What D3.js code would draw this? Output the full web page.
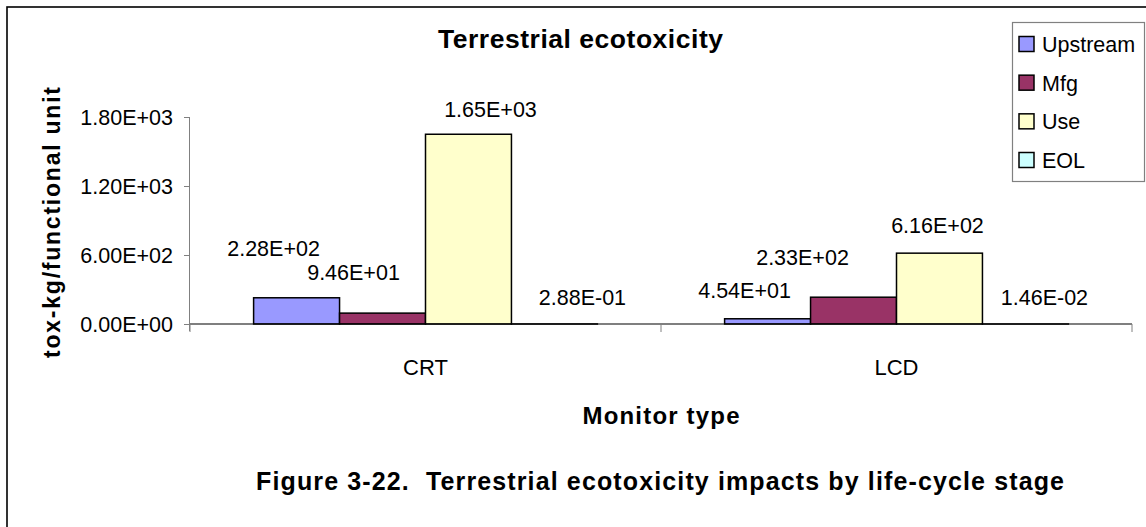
<!DOCTYPE html>
<html>
<head>
<meta charset="utf-8">
<script src="https://cdn.jsdelivr.net/npm/d3@7"></script>
<style>
  body { margin: 0; background: #fff; }
  svg { display: block; font-family: "Liberation Sans", Arial, sans-serif; }
</style>
</head>
<body>
<script>
// data
const categories = ["CRT", "LCD"];
const series = ["Upstream", "Mfg", "Use", "EOL"];
const valuesCRT = [228, 94.6, 1650, 0.288];
const valuesLCD = [45.4, 233, 616, 0.0146];
const valueLabelsCRT = ["2.28E+02", "9.46E+01", "1.65E+03", "2.88E-01"];
const valueLabelsLCD = ["4.54E+01", "2.33E+02", "6.16E+02", "1.46E-02"];
const yTicks = [0, 600, 1200, 1800];
const yTickLabels = ["0.00E+00", "6.00E+02", "1.20E+03", "1.80E+03"];
const colors = ["#9999ff", "#993366", "#ffffcc", "#ccffff"];

// label nudges in px (dx from bar centre, dy of baseline above bar top), as placed in the original
const nudgeCRT = [[-23, -42], [-29, -33], [22, -17], [28, -19]];
const nudgeLCD = [[-23, -21], [-51, -32], [-2, -20], [19, -19]];

const W = 1146, H = 527;
const plotL = 190, plotR = 1132, plotT = 117, plotB = 324;

const svg = d3.select("body").append("svg")
  .attr("width", W).attr("height", H);

// outer frame (right/bottom edges run off the picture)
svg.append("rect")
  .attr("x", 7).attr("y", 7)
  .attr("width", W + 10).attr("height", H + 10)
  .attr("fill", "#fff")
  .attr("stroke", "#000").attr("stroke-width", 1.6);

const x0 = d3.scaleBand().domain(categories).range([plotL, plotR]);
const x1 = d3.scaleBand().domain(series).range([0, x0.bandwidth()])
  .paddingInner(0).paddingOuter(0.74);
const y = d3.scaleLinear().domain([0, 1800]).range([plotB, plotT]);

const rows = [
  { cat: "CRT", vals: valuesCRT, labels: valueLabelsCRT, nudge: nudgeCRT },
  { cat: "LCD", vals: valuesLCD, labels: valueLabelsLCD, nudge: nudgeLCD },
];

// bars
const groups = svg.append("g").selectAll("g")
  .data(rows).join("g")
  .attr("transform", d => `translate(${x0(d.cat)},0)`);

groups.selectAll("rect")
  .data(d => series.map((s, i) => ({ s, i, v: d.vals[i] })))
  .join("rect")
  .attr("x", d => x1(d.s))
  .attr("y", d => y(d.v))
  .attr("width", x1.bandwidth())
  .attr("height", d => y(0) - y(d.v))
  .attr("fill", d => colors[d.i])
  .attr("stroke", "#000")
  .attr("stroke-width", 1.5);

groups.selectAll("text")
  .data(d => series.map((s, i) => ({ s, i, v: d.vals[i], t: d.labels[i], n: d.nudge[i] })))
  .join("text")
  .attr("x", d => x1(d.s) + x1.bandwidth() / 2 + d.n[0])
  .attr("y", d => y(d.v) + d.n[1])
  .attr("text-anchor", "middle")
  .attr("font-size", 21.5)
  .text(d => d.t);

// y axis
const yAxis = d3.axisLeft(y).tickValues(yTicks)
  .tickFormat((d, i) => yTickLabels[i]).tickSize(6).tickPadding(11);
const gy = svg.append("g").attr("transform", `translate(${plotL},0)`).call(yAxis);
gy.select(".domain").attr("stroke", "#808080").attr("d", `M-0.5,${plotT}V${plotB + 7}`);
gy.selectAll(".tick line").attr("stroke", "#808080");
gy.selectAll(".tick text").attr("font-size", 21.5).attr("font-family", "Liberation Sans, Arial, sans-serif")
  .attr("fill", "#000").attr("dy", "0.36em");

// x axis (category boundary ticks)
const gx = svg.append("g").attr("transform", `translate(0,${plotB})`);
gx.append("line").attr("x1", plotL).attr("x2", plotR).attr("stroke", "#000").attr("stroke-width", 1.2);
gx.selectAll(".bt")
  .data([plotL, x0("LCD"), plotR]).join("line")
  .attr("x1", d => d).attr("x2", d => d)
  .attr("y1", 0).attr("y2", 8)
  .attr("stroke", "#808080");
gx.selectAll(".cl")
  .data(categories).join("text")
  .attr("x", d => x0(d) + x0.bandwidth() / 2)
  .attr("y", 51)
  .attr("text-anchor", "middle")
  .attr("font-size", 22)
  .text(d => d);

// titles
svg.append("text").attr("x", 580.5).attr("y", 48)
  .attr("text-anchor", "middle").attr("font-weight", "bold").attr("font-size", 26.5)
  .attr("textLength", 285).attr("lengthAdjust", "spacing")
  .text("Terrestrial ecotoxicity");

svg.append("text")
  .attr("transform", "translate(60,222.5) rotate(-90)")
  .attr("text-anchor", "middle").attr("font-weight", "bold").attr("font-size", 23)
  .attr("textLength", 271).attr("lengthAdjust", "spacing")
  .text("tox-kg/functional unit");

svg.append("text").attr("x", 661).attr("y", 424)
  .attr("text-anchor", "middle").attr("font-weight", "bold").attr("font-size", 24)
  .attr("textLength", 157).attr("lengthAdjust", "spacing")
  .text("Monitor type");

svg.append("text").attr("x", 660).attr("y", 490)
  .attr("text-anchor", "middle").attr("font-weight", "bold").attr("font-size", 25)
  .attr("textLength", 808).attr("lengthAdjust", "spacing")
  .attr("xml:space", "preserve")
  .text("Figure 3-22.  Terrestrial ecotoxicity impacts by life-cycle stage");

// legend
const lg = svg.append("g");
lg.append("rect").attr("x", 1012.5).attr("y", 22.5).attr("width", 132).attr("height", 159)
  .attr("fill", "#fff").attr("stroke", "#808080").attr("stroke-width", 1.2);
const ly = d3.scalePoint().domain(series).range([44, 160]);
const items = lg.selectAll("g").data(series).join("g")
  .attr("transform", d => `translate(1019,${ly(d)})`);
items.append("rect").attr("x", 0).attr("y", -7.5).attr("width", 15).attr("height", 15)
  .attr("fill", (d, i) => colors[i]).attr("stroke", "#000").attr("stroke-width", 1.5);
items.append("text").attr("x", 23).attr("y", 8).attr("font-size", 21.5).text(d => d);
</script>
</body>
</html>
